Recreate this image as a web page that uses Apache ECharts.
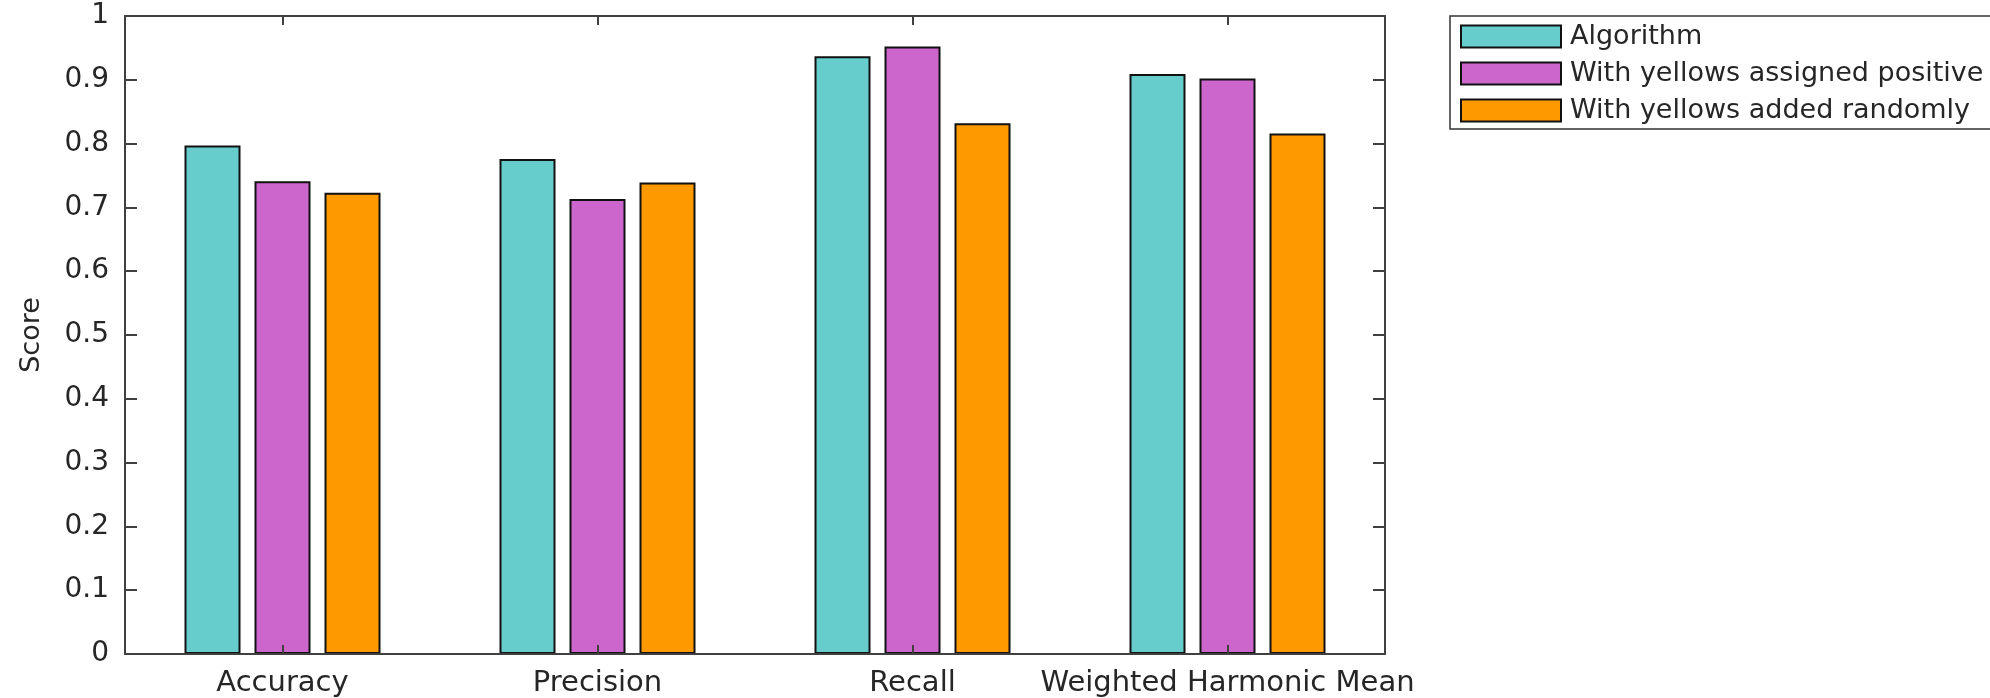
<!DOCTYPE html>
<html>
<head>
<meta charset="utf-8">
<script src="https://cdn.jsdelivr.net/npm/echarts@6/dist/echarts.min.js"></script>
<style>
html,body{margin:0;padding:0;background:#fff;}
#chart{width:1990px;height:698px;}
</style>
</head>
<body>
<div id="chart"></div>
<script>
const categories = ['Accuracy', 'Precision', 'Recall', 'Weighted Harmonic Mean'];
const seriesNames = ['Algorithm', 'With yellows assigned positive', 'With yellows added randomly'];
const algorithm = [0.797, 0.776, 0.937, 0.909];
const yellowsPositive = [0.741, 0.713, 0.952, 0.902];
const yellowsRandom = [0.723, 0.739, 0.832, 0.816];
const seriesColors = ['#66CCCC', '#CC66CC', '#FF9900'];

const font = 'DejaVu Sans';
const axisColor = '#404040';
const textColor = '#262626';

const chart = echarts.init(document.getElementById('chart'), null, {renderer: 'canvas'});

function bar(name, data, color) {
  return {
    name: name,
    type: 'bar',
    data: data,
    barWidth: 56,
    barGap: '25%',
    itemStyle: {color: color, borderColor: '#111', borderWidth: 2},
    emphasis: {disabled: true},
    z: 2
  };
}

chart.setOption({
  animation: false,
  backgroundColor: '#fff',
  grid: {left: 125, right: 605, top: 16, bottom: 42, containLabel: false},
  legend: {
    orient: 'vertical',
    left: 1450,
    top: 16,
    data: seriesNames,
    icon: 'rect',
    itemWidth: 100,
    itemHeight: 22,
    itemGap: 10,
    padding: [7, 20, 5, 10],
    borderColor: '#333',
    borderWidth: 1.5,
    backgroundColor: '#fff',
    itemStyle: {borderColor: '#111', borderWidth: 2},
    textStyle: {fontFamily: font, fontSize: 27, color: textColor, lineHeight: 22, padding: [0, 0, 0, 4]},
    selectedMode: false
  },
  xAxis: [
    {
      type: 'category',
      data: categories,
      position: 'bottom',
      z: 5,
      axisLine: {show: true, lineStyle: {color: axisColor, width: 2}},
      axisTick: {show: true, inside: true, alignWithLabel: true, length: 9, lineStyle: {color: axisColor, width: 2}},
      axisLabel: {fontFamily: font, fontSize: 29, color: textColor, margin: 15, interval: 0},
      splitLine: {show: false}
    },
    {
      type: 'category',
      data: categories,
      position: 'top',
      z: 5,
      axisLine: {show: true, onZero: false, lineStyle: {color: axisColor, width: 2}},
      axisTick: {show: true, inside: true, alignWithLabel: true, length: 9, lineStyle: {color: axisColor, width: 2}},
      axisLabel: {show: false},
      splitLine: {show: false}
    }
  ],
  yAxis: [
    {
      type: 'value',
      min: 0,
      max: 1,
      interval: 0.1,
      position: 'left',
      z: 5,
      name: 'Score',
      nameLocation: 'middle',
      nameGap: 80,
      nameRotate: 90,
      nameTextStyle: {fontFamily: font, fontSize: 27, color: textColor},
      axisLine: {show: true, lineStyle: {color: axisColor, width: 2}},
      axisTick: {show: true, inside: true, length: 12, lineStyle: {color: axisColor, width: 2}},
      axisLabel: {fontFamily: font, fontSize: 28, color: textColor, margin: 16},
      splitLine: {show: false}
    },
    {
      type: 'value',
      min: 0,
      max: 1,
      interval: 0.1,
      position: 'right',
      z: 5,
      axisLine: {show: true, onZero: false, lineStyle: {color: axisColor, width: 2}},
      axisTick: {show: true, inside: true, length: 12, lineStyle: {color: axisColor, width: 2}},
      axisLabel: {show: false},
      splitLine: {show: false}
    }
  ],
  series: [
    bar(seriesNames[0], algorithm, seriesColors[0]),
    bar(seriesNames[1], yellowsPositive, seriesColors[1]),
    bar(seriesNames[2], yellowsRandom, seriesColors[2])
  ]
});
</script>
</body>
</html>
